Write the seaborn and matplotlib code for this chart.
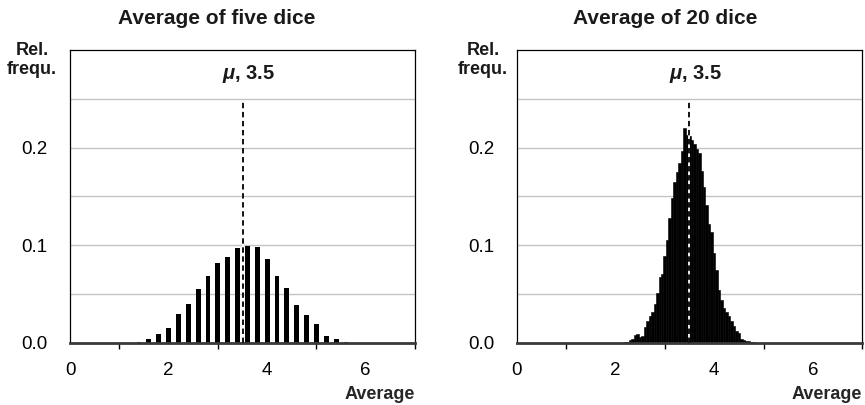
import numpy as np
import pandas as pd
import seaborn as sns
import matplotlib.pyplot as plt
from matplotlib.ticker import FixedLocator

# Relative frequencies of the average of five dice (step 0.2)
five_avg = [1.4, 1.6, 1.8, 2.0, 2.2, 2.4, 2.6, 2.8, 3.0, 3.2, 3.4,
            3.6, 3.8, 4.0, 4.2, 4.4, 4.6, 4.8, 5.0, 5.2, 5.4, 5.6]
five_freq = [0.0010, 0.0038, 0.0092, 0.0151, 0.0291, 0.0401, 0.0555, 0.0682,
             0.0812, 0.0880, 0.0969, 0.0993, 0.0979, 0.0856, 0.0682, 0.0558,
             0.0384, 0.0284, 0.0192, 0.0068, 0.0038, 0.0010]

# Relative frequencies of the average of 20 dice (step 0.05)
twenty_avg = [2.20, 2.25, 2.30, 2.35, 2.40, 2.45, 2.50, 2.55, 2.60, 2.65,
              2.70, 2.75, 2.80, 2.85, 2.90, 2.95, 3.00, 3.05, 3.10, 3.15,
              3.20, 3.25, 3.30, 3.35, 3.40, 3.45, 3.50, 3.55, 3.60, 3.65,
              3.70, 3.75, 3.80, 3.85, 3.90, 3.95, 4.00, 4.05, 4.10, 4.15,
              4.20, 4.25, 4.30, 4.35, 4.40, 4.45, 4.50, 4.55, 4.60, 4.65,
              4.70, 4.75, 4.80]
twenty_freq = [0.001, 0.001, 0.003, 0.004, 0.008, 0.009, 0.006, 0.007, 0.016, 0.022,
               0.027, 0.031, 0.040, 0.051, 0.067, 0.070, 0.089, 0.105, 0.128, 0.148,
               0.165, 0.175, 0.184, 0.196, 0.220, 0.213, 0.212, 0.208, 0.204, 0.199,
               0.194, 0.176, 0.160, 0.141, 0.122, 0.113, 0.092, 0.075, 0.054, 0.044,
               0.036, 0.031, 0.027, 0.022, 0.017, 0.012, 0.010, 0.004, 0.003, 0.002,
               0.002, 0.001, 0.001]

titles = ["Average of five dice", "Average of 20 dice"]
mu = 3.5
y_ticks = [0.0, 0.1, 0.2]
y_ticklabels = ["0.0", "0.1", "0.2"]
x_ticks = [0, 2, 4, 6]
x_ticklabels = ["0", "2", "4", "6"]

sns.set_theme(style="white")
plt.rcParams['font.family'] = ['Liberation Sans', 'DejaVu Sans']
plt.rcParams['mathtext.fontset'] = 'custom'
plt.rcParams['mathtext.it'] = 'Liberation Sans:italic:bold'
plt.rcParams['mathtext.rm'] = 'Liberation Sans:bold'


def edges_for(centers, width):
    c = np.asarray(centers, dtype=float)
    return [float(v) for v in np.append(c - width / 2, c[-1] + width / 2)]


fig = plt.figure(figsize=(8.65, 4.05), dpi=100)
W, H = 865, 405
ax1 = fig.add_axes([70 / W, (H - 342.7) / H, 345 / W, 292.7 / H])
ax2 = fig.add_axes([516.5 / W, (H - 342.7) / H, 345.8 / W, 292.7 / H])

df5 = pd.DataFrame({"avg": five_avg, "freq": five_freq})
df20 = pd.DataFrame({"avg": twenty_avg, "freq": twenty_freq})

sns.histplot(data=df5, x="avg", weights="freq", bins=edges_for(five_avg, 0.2),
             shrink=0.5, color="black", alpha=1, linewidth=0, ax=ax1)
sns.histplot(data=df20, x="avg", weights="freq", bins=edges_for(twenty_avg, 0.05),
             color="black", alpha=1, edgecolor="black", linewidth=0.4, ax=ax2)

for ax, title, tx, lx in [(ax1, titles[0], 217, 32), (ax2, titles[1], 665, 483)]:
    ax.set_xlim(0, 7)
    ax.set_ylim(0, 0.3)
    ax.set_ylabel("")
    ax.set_xlabel("Average", loc="right", fontsize=13, fontweight="bold", labelpad=5)

    ax.set_yticks(y_ticks)
    ax.set_yticklabels(y_ticklabels)
    ax.yaxis.set_minor_locator(FixedLocator([0.05, 0.15, 0.25]))
    ax.set_xticks(x_ticks)
    ax.set_xticklabels(x_ticklabels)
    ax.xaxis.set_minor_locator(FixedLocator([1, 3, 5, 7]))

    ax.tick_params(axis="both", which="major", direction="out", length=4,
                   width=1, color="black", labelsize=13.5, labelcolor="black")
    ax.tick_params(axis="y", which="major", pad=12)
    ax.tick_params(axis="x", which="major", pad=10)
    ax.tick_params(axis="x", which="minor", direction="out", length=4,
                   width=1, color="black", bottom=True)
    ax.tick_params(axis="y", which="minor", length=0)

    ax.set_axisbelow(True)
    ax.yaxis.grid(True, which="both", color="#c4c4c4", linewidth=1)
    ax.xaxis.grid(False)

    for side in ["left", "right", "top"]:
        ax.spines[side].set_visible(True)
        ax.spines[side].set_color("black")
        ax.spines[side].set_linewidth(0.9)
    ax.spines["bottom"].set_color("#3a3a3a")
    ax.spines["bottom"].set_linewidth(2)

    # mean marker: white backing with black dashes so it shows over black bars
    ax.vlines(mu, 0, 0.25, colors="white", linewidth=1.3, zorder=3)
    ax.vlines(mu, 0, 0.25, colors="black", linewidth=1.3,
              linestyles=(0, (3, 2)), zorder=4)
    ax.text(3.62, 0.275, r"$\mu$, " + f"{mu}", ha="center", va="center",
            fontsize=14.5, fontweight="bold", color="#1a1a1a")

    fig.text(tx / W, 1 - 19 / H, title, ha="center", va="center",
             fontsize=15, fontweight="bold", color="#1a1a1a")
    fig.text(lx / W, 1 - 60 / H, "Rel.\nfrequ.", ha="center", va="center",
             fontsize=13, fontweight="bold", color="#1a1a1a", linespacing=1.15)

fig.savefig("out.png", dpi=100)
